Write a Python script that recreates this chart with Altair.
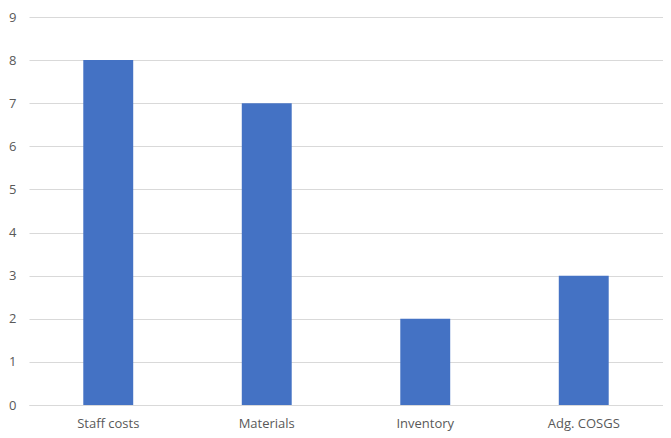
import altair as alt
import pandas as pd

categories = ["Staff costs", "Materials", "Inventory", "Adg. COSGS"]
values = [8, 7, 2, 3]

df = pd.DataFrame({"category": categories, "value": values})

chart = alt.Chart(df).mark_bar(color="#4472C4").encode(
    x=alt.X("category:N", sort=categories, title=None,
            scale=alt.Scale(paddingInner=0.685, paddingOuter=0.3425),
            axis=alt.Axis(labelAngle=0, domain=True, domainColor="#D9D9D9", ticks=False,
                          labelFont="Open Sans", labelFontSize=13, labelColor="#595959",
                          labelPadding=12, grid=False)),
    y=alt.Y("value:Q", title=None,
            scale=alt.Scale(domain=[0, 9], nice=False),
            axis=alt.Axis(values=list(range(10)), domain=False, ticks=False,
                          gridColor="#D9D9D9", labelFont="Open Sans", labelFontSize=13,
                          labelColor="#595959", labelPadding=13)),
).properties(
    width=634, height=388,
    autosize=alt.AutoSizeParams(type="none"),
    padding={"left": 21, "top": 9, "right": 0, "bottom": 30},
).configure_view(stroke=None)

chart.save("out.html", embed_options={"renderer": "svg", "actions": False})
